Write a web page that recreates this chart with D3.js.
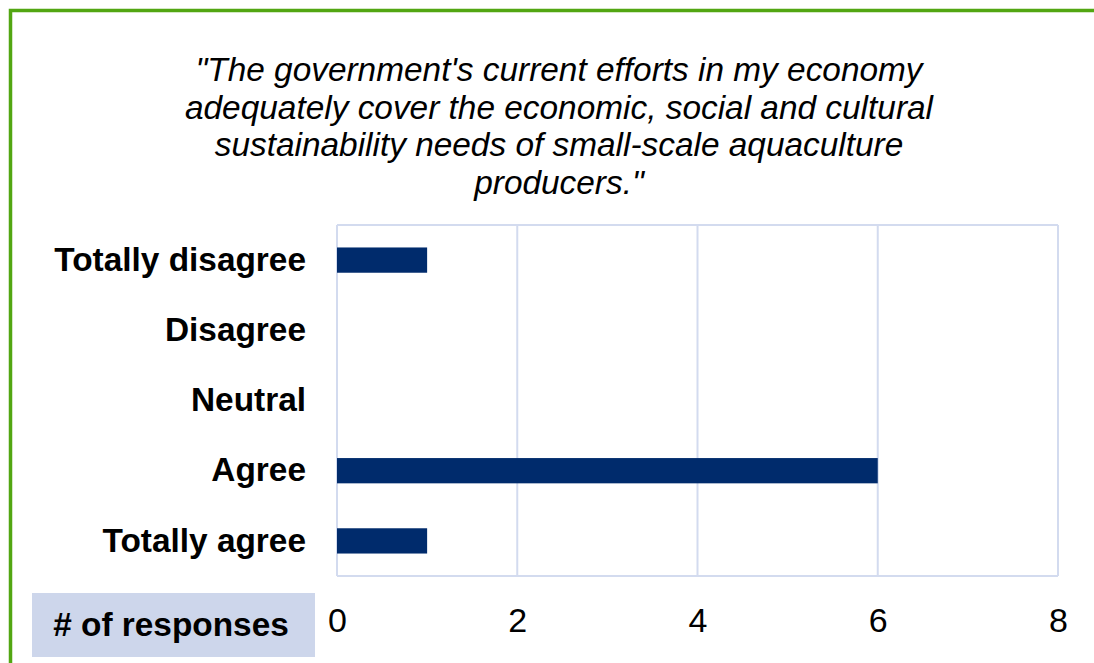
<!DOCTYPE html>
<html>
<head>
<meta charset="utf-8">
<script src="https://cdn.jsdelivr.net/npm/d3@7/dist/d3.min.js"></script>
<style>
  html, body { margin: 0; padding: 0; background: #ffffff; }
  svg { display: block; }
  text { font-family: "Liberation Sans", Arial, sans-serif; fill: #000; }
</style>
</head>
<body>
<svg id="chart" width="1094" height="663"></svg>
<script>
// Survey answers, top to bottom
const categories = ["Totally disagree", "Disagree", "Neutral", "Agree", "Totally agree"];
const responses = [1, 0, 0, 6, 1];
const xTicks = [0, 2, 4, 6, 8];
const titleLines = [
  "\"The government's current efforts in my economy",
  "adequately cover the economic, social and cultural",
  "sustainability needs of small-scale aquaculture",
  "producers.\""
];
const axisLabel = "# of responses";

const svg = d3.select("#chart");
const W = 1094, H = 663;
const plot = { left: 337, right: 1058, top: 225, bottom: 576 };
const gridColor = "#d3dbef";
const barColor = "#002b6c";
const labelSize = 33.4;

// Frame: green rule along the top and the left edge
svg.append("path")
  .attr("d", `M10.5,${H} L10.5,10.5 L${W},10.5`)
  .attr("fill", "none")
  .attr("stroke", "#52a612")
  .attr("stroke-width", 3.5);

// Title
const title = svg.append("text")
  .attr("text-anchor", "middle")
  .attr("font-style", "italic")
  .attr("font-size", labelSize);
titleLines.forEach((line, i) => {
  title.append("tspan")
    .attr("x", 559)
    .attr("y", 81 + i * 37.5)
    .text(line);
});

const x = d3.scaleLinear().domain([0, 8]).range([plot.left, plot.right]);
const y = d3.scaleBand().domain(categories)
  .range([plot.top, plot.bottom])
  .paddingInner(0.64).paddingOuter(0.32);

// Vertical gridlines
svg.append("g")
  .selectAll("line")
  .data(xTicks)
  .join("line")
  .attr("x1", d => x(d)).attr("x2", d => x(d))
  .attr("y1", plot.top).attr("y2", plot.bottom)
  .attr("stroke", gridColor).attr("stroke-width", 2);

// Plot border (top and bottom)
svg.append("g").selectAll("line")
  .data([plot.top, plot.bottom])
  .join("line")
  .attr("x1", plot.left).attr("x2", plot.right)
  .attr("y1", d => d).attr("y2", d => d)
  .attr("stroke", gridColor).attr("stroke-width", 2);

// Bars
svg.append("g")
  .selectAll("rect")
  .data(categories.map((c, i) => ({ c, v: responses[i] })))
  .join("rect")
  .attr("x", x(0))
  .attr("y", d => y(d.c))
  .attr("width", d => x(d.v) - x(0))
  .attr("height", y.bandwidth())
  .attr("fill", barColor);

// Category axis
const yAxis = svg.append("g")
  .attr("transform", `translate(${plot.left - 31},0)`)
  .call(d3.axisLeft(y).tickSize(0).tickPadding(0));
yAxis.select(".domain").remove();
yAxis.selectAll("text")
  .attr("font-size", labelSize)
  .attr("font-weight", "bold")
  .attr("font-family", "Liberation Sans, Arial, sans-serif")
  .attr("fill", "#000");

// Value axis
const xAxis = svg.append("g")
  .attr("transform", `translate(0,${plot.bottom})`)
  .call(d3.axisBottom(x).tickValues(xTicks).tickSize(0).tickPadding(0).tickFormat(d3.format("d")));
xAxis.select(".domain").remove();
xAxis.selectAll("text")
  .attr("y", 0)
  .attr("dy", 0)
  .attr("transform", "translate(0,56)")
  .attr("font-size", 34)
  .attr("font-family", "Liberation Sans, Arial, sans-serif")
  .attr("fill", "#000");

// Axis title badge
svg.append("rect")
  .attr("x", 32).attr("y", 593)
  .attr("width", 283).attr("height", 64)
  .attr("fill", "#cdd6eb");
svg.append("text")
  .attr("x", 171).attr("y", 636)
  .attr("text-anchor", "middle")
  .attr("font-size", labelSize)
  .attr("font-weight", "bold")
  .text(axisLabel);
</script>
</body>
</html>
